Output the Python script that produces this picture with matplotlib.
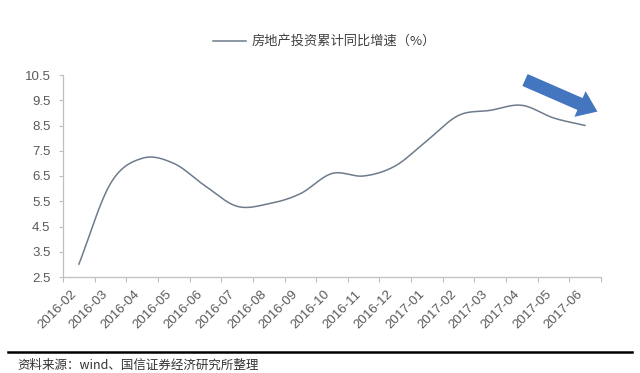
import numpy as np
import matplotlib
matplotlib.use("Agg")
import matplotlib.pyplot as plt
from matplotlib.patches import FancyArrow
from matplotlib.lines import Line2D
from matplotlib import transforms

plt.rcParams['font.family'] = ['Liberation Sans', 'Noto Sans CJK SC', 'DejaVu Sans']

months = ['2016-02', '2016-03', '2016-04', '2016-05', '2016-06', '2016-07',
          '2016-08', '2016-09', '2016-10', '2016-11', '2016-12', '2017-01',
          '2017-02', '2017-03', '2017-04', '2017-05', '2017-06']
growth = [3.0, 6.2, 7.2, 7.0, 6.1, 5.3, 5.4, 5.8, 6.6, 6.5, 6.9, 7.9,
          8.9, 9.1, 9.3, 8.8, 8.5]
series_name = '房地产投资累计同比增速（%）'
source_text = '资料来源：wind、国信证券经济研究所整理'
yticks = [2.5, 3.5, 4.5, 5.5, 6.5, 7.5, 8.5, 9.5, 10.5]

LINE_COLOR = '#6e7b8a'
TICK_COLOR = '#595959'
SPINE_COLOR = '#bfbfbf'


def catmull_rom(x, y, n=30):
    x = np.asarray(x, float)
    y = np.asarray(y, float)
    px = np.concatenate([[2 * x[0] - x[1]], x, [2 * x[-1] - x[-2]]])
    py = np.concatenate([[2 * y[0] - y[1]], y, [2 * y[-1] - y[-2]]])
    xs, ys = [], []
    t = np.linspace(0, 1, n, endpoint=False)
    for i in range(1, len(px) - 2):
        p0, p1, p2, p3 = px[i - 1], px[i], px[i + 1], px[i + 2]
        q0, q1, q2, q3 = py[i - 1], py[i], py[i + 1], py[i + 2]
        c1x, c1y = p1 + (p2 - p0) / 6, q1 + (q2 - q0) / 6
        c2x, c2y = p2 - (p3 - p1) / 6, q2 - (q3 - q1) / 6
        bx = (1 - t) ** 3 * p1 + 3 * (1 - t) ** 2 * t * c1x + 3 * (1 - t) * t ** 2 * c2x + t ** 3 * p2
        by = (1 - t) ** 3 * q1 + 3 * (1 - t) ** 2 * t * c1y + 3 * (1 - t) * t ** 2 * c2y + t ** 3 * q2
        xs.append(bx)
        ys.append(by)
    xs.append([x[-1]])
    ys.append([y[-1]])
    return np.concatenate(xs), np.concatenate(ys)


fig = plt.figure(figsize=(6.4, 3.73), dpi=100)
ax = fig.add_axes([63 / 640, 1 - 277 / 373, (601 - 63) / 640, (277 - 75) / 373])

xi = np.arange(len(months))
sx, sy = catmull_rom(xi, growth)
ax.plot(sx, sy, color=LINE_COLOR, lw=1.1, solid_capstyle='round')

ax.set_xlim(-0.5, len(months) - 0.5)
ax.set_ylim(2.5, 10.5)
ax.set_yticks(yticks)
ax.set_yticklabels([f'{v:.1f}' for v in yticks])
ax.set_xticks(xi)
ax.set_xticklabels(months, rotation=45, ha='right', va='top')
ax.set_xticks(np.arange(len(months) + 1) - 0.5, minor=True)

ax.tick_params(axis='x', which='major', length=0, pad=8, labelsize=9.5, labelcolor=TICK_COLOR)
ax.tick_params(axis='x', which='minor', length=3.5, width=0.8, color=SPINE_COLOR, direction='out')
ax.tick_params(axis='y', length=3, width=0.8, color=SPINE_COLOR, pad=6, labelsize=9.5, labelcolor=TICK_COLOR)

for s in ['top', 'right']:
    ax.spines[s].set_visible(False)
for s in ['left', 'bottom']:
    ax.spines[s].set_color(SPINE_COLOR)
    ax.spines[s].set_linewidth(0.9)

pix = transforms.Affine2D().scale(1 / 100, -1 / 100).translate(0, 3.73) + fig.dpi_scale_trans

fig.add_artist(Line2D([213, 246], [41, 41], transform=pix, color=LINE_COLOR, lw=1.1))
fig.text(252, 41, series_name, transform=pix, ha='left', va='center',
         fontsize=9.5, color='#404040', family=['Noto Sans CJK SC', 'DejaVu Sans'])

arrow = FancyArrow(525, 80, 55, 24, width=13, head_width=28, head_length=19,
                   length_includes_head=False, transform=pix, color='#4376bf', lw=0)
fig.add_artist(arrow)

fig.add_artist(Line2D([8, 632], [352, 352], transform=pix, color='black', lw=1.8))
fig.text(17, 365, source_text, transform=pix, ha='left', va='center',
         fontsize=9, color='#333333', family=['Noto Sans CJK SC', 'DejaVu Sans'])

fig.savefig('out.png', dpi=100)
